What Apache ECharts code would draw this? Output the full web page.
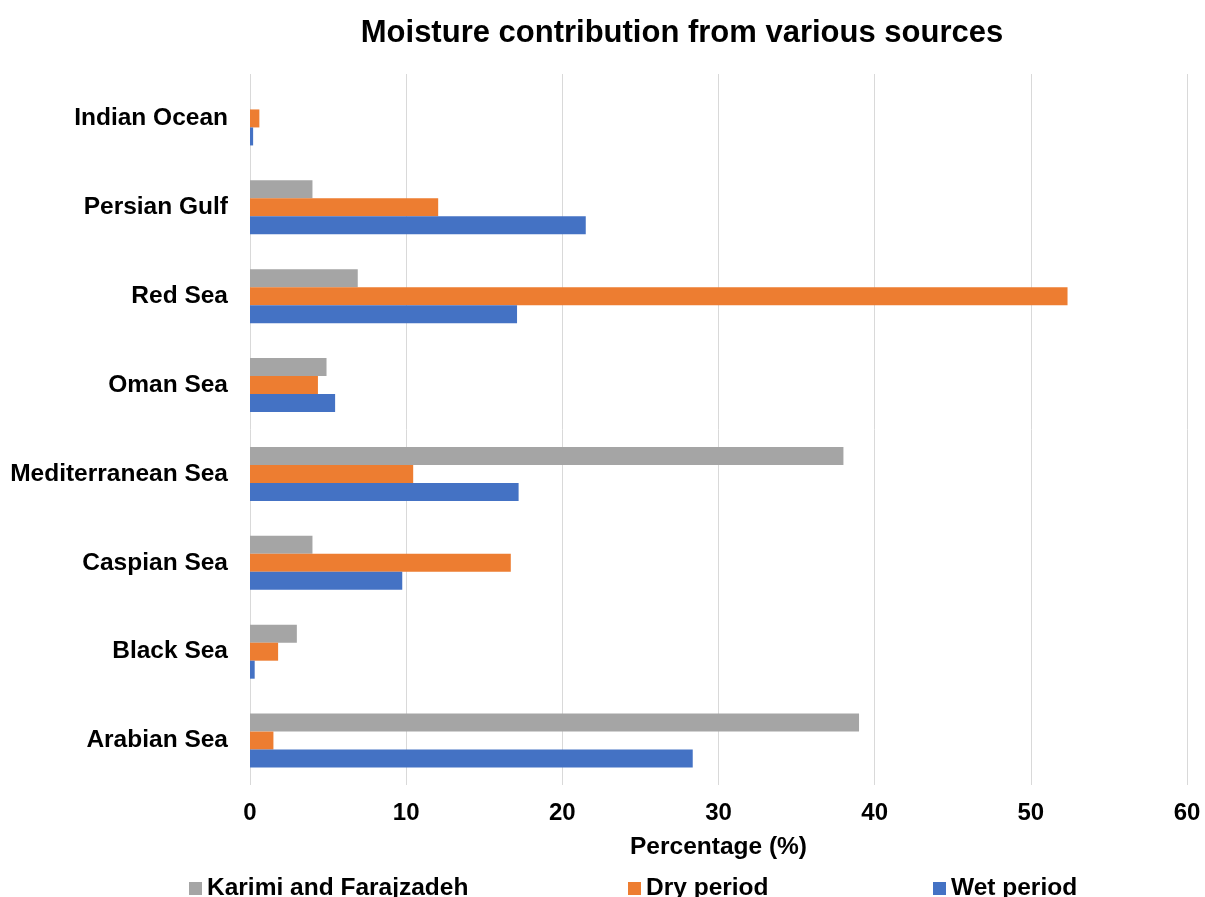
<!DOCTYPE html>
<html>
<head>
<meta charset="utf-8">
<script src="https://cdn.jsdelivr.net/npm/echarts@6/dist/echarts.min.js"></script>
<style>
  html, body { margin: 0; padding: 0; background: #ffffff; }
  #chart { width: 1205px; height: 897px; }
</style>
</head>
<body>
<div id="chart"></div>
<script>
// Moisture sources, listed bottom to top on the category axis
const categories = ['Arabian Sea', 'Black Sea', 'Caspian Sea', 'Mediterranean Sea', 'Oman Sea', 'Red Sea', 'Persian Gulf', 'Indian Ocean'];

// Contribution (%) per source
const karimiValues = [39.0, 3.0, 4.0, 38.0, 4.9, 6.9, 4.0, 0];
const dryValues    = [1.5, 1.8, 16.7, 10.45, 4.35, 52.35, 12.05, 0.6];
const wetValues    = [28.35, 0.3, 9.75, 17.2, 5.45, 17.1, 21.5, 0.2];

const xTicks = [0, 10, 20, 30, 40, 50, 60];

const FONT = '"Liberation Sans", Arial, sans-serif';
const colors = { karimi: '#a5a5a5', dry: '#ed7d31', wet: '#4472c4' };

const chart = echarts.init(document.getElementById('chart'), null, { renderer: 'canvas' });

function legendAt(left, name) {
  return {
    data: [name],
    left: left,
    top: 871,
    icon: 'rect',
    itemWidth: 13,
    itemHeight: 13,
    itemGap: 0,
    selectedMode: false,
    textStyle: { fontFamily: FONT, fontWeight: 'bold', fontSize: 24.5, color: '#000' }
  };
}

chart.setOption({
  animation: false,
  backgroundColor: '#ffffff',
  title: {
    text: 'Moisture contribution from various sources',
    left: 677,
    textAlign: 'center',
    top: 13,
    textStyle: { fontFamily: FONT, fontWeight: 'bold', fontSize: 31, color: '#000' }
  },
  legend: [
    legendAt(184, 'Karimi and Farajzadeh'),
    legendAt(623, 'Dry period'),
    legendAt(928, 'Wet period')
  ],
  grid: { left: 250, right: 18, top: 74, bottom: 112, containLabel: false },
  xAxis: {
    type: 'value',
    min: xTicks[0],
    max: xTicks[xTicks.length - 1],
    interval: 10,
    name: 'Percentage (%)',
    nameLocation: 'middle',
    nameGap: 50,
    nameTextStyle: { fontFamily: FONT, fontWeight: 'bold', fontSize: 24.5, color: '#000' },
    axisLine: { show: false },
    axisTick: { show: false },
    axisLabel: { margin: 16, fontFamily: FONT, fontWeight: 'bold', fontSize: 24, color: '#000' },
    splitLine: { show: true, lineStyle: { color: '#d9d9d9', width: 1 } }
  },
  yAxis: {
    type: 'category',
    data: categories,
    axisLine: { show: false },
    axisTick: { show: false },
    axisLabel: { margin: 22, fontFamily: FONT, fontWeight: 'bold', fontSize: 24.5, color: '#000' },
    splitLine: { show: false }
  },
  // Within each source group: Karimi on top, then dry, then wet
  series: [
    { name: 'Karimi and Farajzadeh', type: 'bar', data: karimiValues, barWidth: 18, barGap: '0%', itemStyle: { color: colors.karimi } },
    { name: 'Dry period', type: 'bar', data: dryValues, barWidth: 18, barGap: '0%', itemStyle: { color: colors.dry } },
    { name: 'Wet period', type: 'bar', data: wetValues, barWidth: 18, barGap: '0%', itemStyle: { color: colors.wet } }
  ]
});
</script>
</body>
</html>
